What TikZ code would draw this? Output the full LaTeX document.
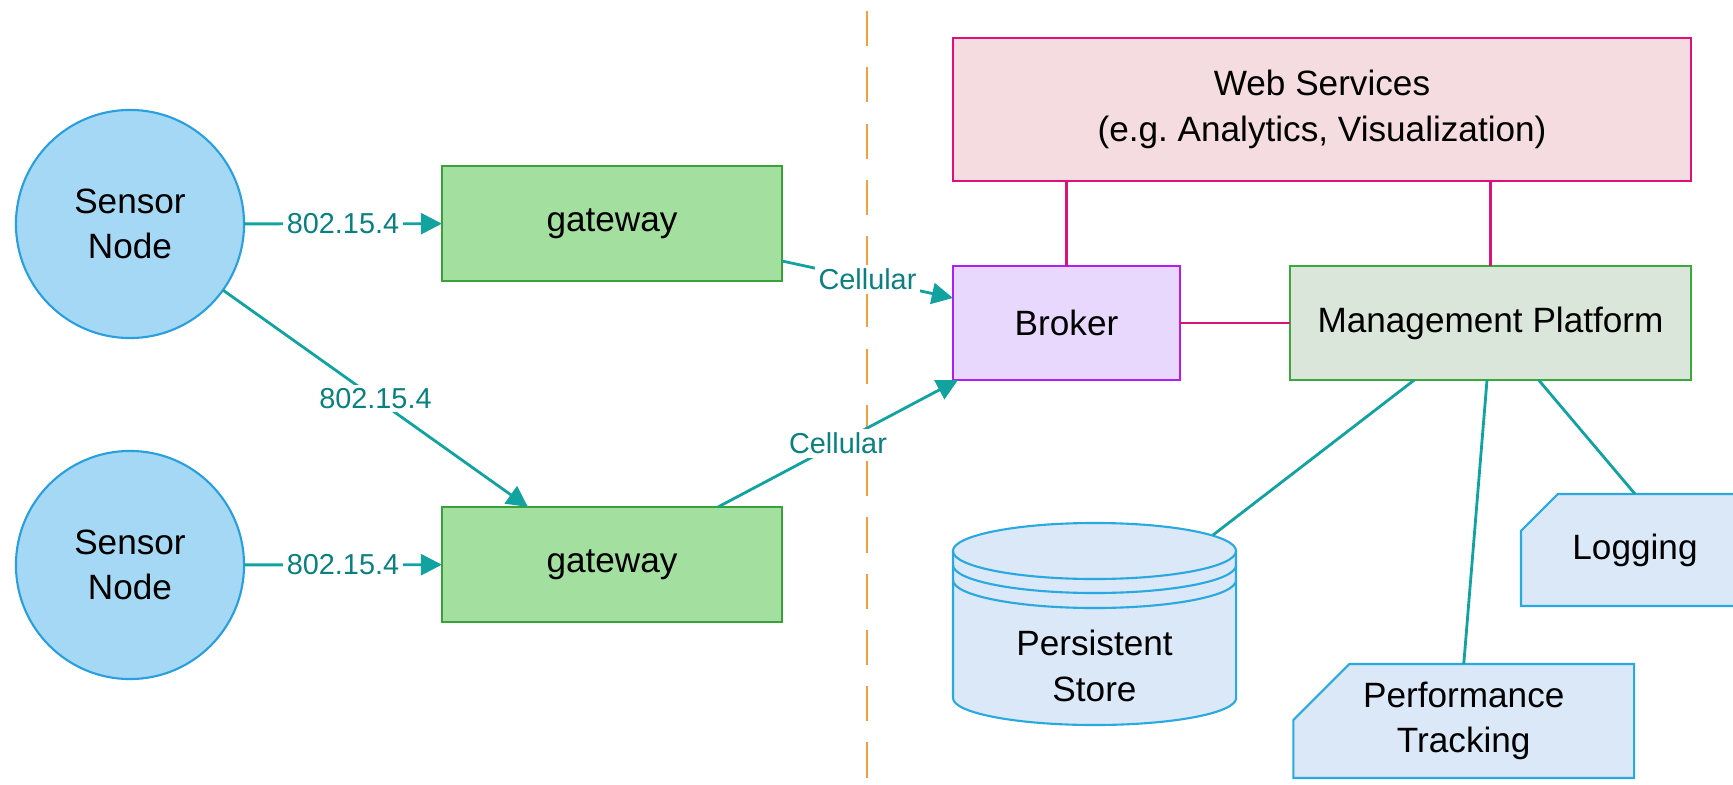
\documentclass[tikz,border=0pt]{standalone}
\usepackage{fontspec}
\setmainfont{Liberation Sans}
\usetikzlibrary{arrows.meta,calc}
\definecolor{sensorfill}{HTML}{A4D8F4}
\definecolor{sensorline}{HTML}{2A9FE0}
\definecolor{gwfill}{HTML}{A3E0A0}
\definecolor{gwline}{HTML}{3AA03A}
\definecolor{webfill}{HTML}{F4DCE1}
\definecolor{webline}{HTML}{E0107A}
\definecolor{brfill}{HTML}{E8D8FD}
\definecolor{brline}{HTML}{B01EF5}
\definecolor{mpfill}{HTML}{DBE6DA}
\definecolor{mpline}{HTML}{3AA83A}
\definecolor{bfill}{HTML}{DAE8F8}
\definecolor{bline}{HTML}{2AA8E0}
\definecolor{teal1}{HTML}{12A3A0}
\definecolor{tealtext}{HTML}{0A8080}
\definecolor{magline}{HTML}{D8147A}
\definecolor{orangedash}{HTML}{F0A040}
\pgfdeclarelayer{bg}
\pgfsetlayers{bg,main}
\frenchspacing
\begin{document}
\begin{tikzpicture}[x=0.01cm,y=-0.01cm,
  txt/.style={font=\fontsize{10}{13}\selectfont, align=center, inner sep=0pt, outer sep=0pt},
  sensor/.style={txt, circle, draw=sensorline, fill=sensorfill, line width=0.6pt, minimum size=2.28cm},
  boxbase/.style={txt, rectangle, line width=0.7pt},
  gwbox/.style={boxbase, draw=gwline, fill=gwfill, minimum width=3.40cm, minimum height=1.15cm},
  webbox/.style={boxbase, draw=webline, fill=webfill, minimum width=7.38cm, minimum height=1.43cm},
  brbox/.style={boxbase, draw=brline, fill=brfill, minimum width=2.27cm, minimum height=1.14cm},
  mpbox/.style={boxbase, draw=mpline, fill=mpfill, minimum width=4.01cm, minimum height=1.14cm},
  chamtext/.style={txt, rectangle},
  chamshape/.style={draw=bline, fill=bfill, line width=0.6pt},
  link/.style={draw=teal1, line width=0.8pt},
  arrowlink/.style={link, -{Triangle[length=6pt,width=6pt]}},
  lbl/.style={fill=white, text=tealtext, inner sep=1pt, font=\fontsize{8.2}{10}\selectfont},
  magenta link/.style={draw=magline, line width=0.8pt},
  sepline/.style={draw=orangedash, line width=0.6pt, dash pattern=on 10pt off 6pt}
]
\useasboundingbox (0,0) rectangle (1733,785);

% separator
\draw[sepline] (867,11) -- (867,785);

% left side
\node[sensor] (s1) at (130,224) {Sensor\\Node};
\node[sensor] (s2) at (130,565) {Sensor\\Node};
\node[gwbox] (gw1) at (612,223.5) {gateway};
\node[gwbox] (gw2) at (612,564.5) {gateway};

% right side
\node[webbox] (web) at (1322,109.5) {Web Services\\(e.g.\ Analytics, Visualization)};
\node[brbox] (broker) at (1066.5,323) {Broker};
\node[mpbox] (mp) at (1490.5,323) {Management Platform};

% persistent store cylinder
\fill[bfill] (953,551) -- (953,698) arc[start angle=180, end angle=360, x radius=1.415cm, y radius=0.27cm]
  -- (1236,551) arc[start angle=0, end angle=180, x radius=1.415cm, y radius=0.28cm] -- cycle;
\draw[bline, line width=0.6pt] (953,551) -- (953,698) arc[start angle=180, end angle=360, x radius=1.415cm, y radius=0.27cm] -- (1236,551);
\draw[bline, line width=0.6pt] (1094.5,551) ellipse [x radius=1.415cm, y radius=0.28cm];
\draw[bline, line width=0.6pt] (953,565) arc[start angle=180, end angle=360, x radius=1.415cm, y radius=0.28cm];
\draw[bline, line width=0.6pt] (953,580) arc[start angle=180, end angle=360, x radius=1.415cm, y radius=0.28cm];
\node[txt] (store) at (1094.5,666) {Persistent\\Store};
\coordinate (storetop) at (1213,535);

% cut-corner boxes
\node[chamtext, minimum width=3.405cm, minimum height=1.14cm] (pt) at (1463.75,721) {Performance\\Tracking};
\node[chamtext, minimum width=2.28cm, minimum height=1.12cm] (log) at (1635,550) {Logging};
\begin{pgfonlayer}{bg}
\draw[chamshape] ([yshift=-0.56cm]pt.north west) -- ([xshift=0.56cm]pt.north west) -- (pt.north east)
  -- (pt.south east) -- (pt.south west) -- cycle;
\draw[chamshape] ([yshift=-0.37cm]log.north west) -- ([xshift=0.37cm]log.north west) -- (log.north east)
  -- (log.south east) -- (log.south west) -- cycle;
\end{pgfonlayer}

% connectors
\draw[arrowlink] (s1) -- node[lbl] {802.15.4} (gw1);
\draw[arrowlink] (s2) -- node[lbl] {802.15.4} (gw2);
\draw[arrowlink] (s1) -- node[lbl] {802.15.4} ([xshift=-0.84cm]gw2.north);
\draw[arrowlink] ([yshift=0.2cm]gw1.south east) -- node[lbl] {Cellular} ([yshift=0.25cm]broker.west);
\draw[arrowlink] ([xshift=1.06cm]gw2.north) -- node[lbl] {Cellular} ([xshift=0.05cm]broker.south west);

\draw[magenta link] (broker.north) -- (broker.north |- web.south);
\draw[magenta link] (mp.north) -- (mp.north |- web.south);
\draw[magenta link] (broker.east) -- (mp.west);

\draw[link] ($(mp.south west)!0.31!(mp.south east)$) -- (storetop);
\draw[link] ([xshift=-0.035cm]mp.south) -- (pt.north);
\draw[link] ($(mp.south west)!0.62!(mp.south east)$) -- (log.north);
\end{tikzpicture}
\end{document}
